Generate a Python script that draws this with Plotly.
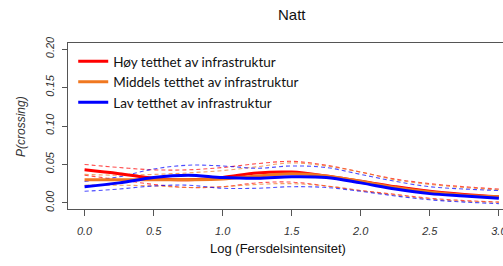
import plotly.graph_objects as go

x_vals = [0.0, 0.25, 0.5, 0.75, 1.0, 1.25, 1.5, 1.75, 2.0, 2.25, 2.5, 2.75, 3.0]

hoy_mean  = [0.043, 0.038, 0.032, 0.030, 0.033, 0.039, 0.040, 0.035, 0.028, 0.021, 0.015, 0.011, 0.008]
hoy_upper = [0.050, 0.046, 0.043, 0.043, 0.046, 0.051, 0.054, 0.049, 0.040, 0.031, 0.025, 0.021, 0.018]
hoy_lower = [0.036, 0.030, 0.024, 0.020, 0.021, 0.026, 0.027, 0.022, 0.016, 0.011, 0.006, 0.003, 0.001]

mid_mean  = [0.030, 0.030, 0.030, 0.030, 0.031, 0.035, 0.038, 0.035, 0.028, 0.020, 0.014, 0.010, 0.008]
mid_upper = [0.037, 0.036, 0.037, 0.039, 0.042, 0.047, 0.052, 0.048, 0.040, 0.030, 0.024, 0.020, 0.017]
mid_lower = [0.023, 0.023, 0.022, 0.020, 0.021, 0.024, 0.025, 0.022, 0.016, 0.010, 0.005, 0.002, 0.001]

lav_mean  = [0.021, 0.026, 0.033, 0.036, 0.033, 0.032, 0.034, 0.033, 0.026, 0.018, 0.012, 0.009, 0.006]
lav_upper = [0.028, 0.034, 0.044, 0.049, 0.048, 0.045, 0.048, 0.046, 0.037, 0.028, 0.021, 0.018, 0.016]
lav_lower = [0.015, 0.018, 0.022, 0.023, 0.019, 0.019, 0.021, 0.020, 0.015, 0.009, 0.004, 0.001, -0.001]

series_names = ["Høy tetthet av infrastruktur",
                "Middels tetthet av infrastruktur",
                "Lav tetthet av infrastruktur"]

x_ticks = [0.0, 0.5, 1.0, 1.5, 2.0, 2.5, 3.0]
x_tick_labels = ["0.0", "0.5", "1.0", "1.5", "2.0", "2.5", "3.0"]
y_ticks = [0.00, 0.05, 0.10, 0.15, 0.20]
y_tick_labels = ["0.00", "0.05", "0.10", "0.15", "0.20"]

colors = ["#FF0000", "#F07820", "#0000FF"]
series = [(hoy_mean, hoy_upper, hoy_lower),
          (mid_mean, mid_upper, mid_lower),
          (lav_mean, lav_upper, lav_lower)]

fig = go.Figure()
# dashed confidence bands first
for (m, u, l), c in zip(series, colors):
    for band in (u, l):
        fig.add_trace(go.Scatter(x=x_vals, y=band, mode="lines", showlegend=False,
                                 line=dict(color=c, width=1.1, dash="4px,3px", shape="spline"),
                                 opacity=0.7, hoverinfo="skip"))
for (m, u, l), c, name in zip(series, colors, series_names):
    fig.add_trace(go.Scatter(x=x_vals, y=m, mode="lines", name=name,
                             line=dict(color=c, width=3, shape="spline")))

axis_col = "#555555"
fig.update_layout(
    width=503, height=266,
    margin=dict(l=68, r=0, t=43, b=57, autoexpand=False),
    paper_bgcolor="white", plot_bgcolor="white",
    showlegend=True,
    legend=dict(x=0.012, y=0.982, xanchor="left", yanchor="top",
                bgcolor="rgba(0,0,0,0)", itemwidth=30, tracegroupgap=0,
                font=dict(family="Lato", size=13.5, color="#111111")),
    xaxis=dict(range=[-0.12, 3.03], tickmode="array", tickvals=x_ticks, ticktext=x_tick_labels,
               automargin=False, ticklabeloverflow="allow", ticklabelstandoff=6,
               showgrid=False, zeroline=False, showline=True, linecolor=axis_col, linewidth=1,
               mirror=True, ticks="outside", ticklen=6, tickcolor=axis_col,
               tickfont=dict(family="Arial", size=11, color="#333333", style="italic")),
    yaxis=dict(range=[-0.008, 0.208], tickmode="array", tickvals=y_ticks, ticktext=y_tick_labels,
               automargin=False, ticklabelstandoff=4,
               showgrid=False, zeroline=False, showline=True, linecolor=axis_col, linewidth=1,
               mirror=False, ticks="outside", ticklen=5, tickcolor=axis_col, tickangle=-90,
               tickfont=dict(family="Arial", size=11, color="#333333", style="italic")),
    annotations=[
        dict(text="Natt", x=(292 - 68) / 435, y=(209 - 15) / 166, xref="paper", yref="paper",
             xanchor="center", yanchor="middle",
             showarrow=False, font=dict(family="Arial", size=15, color="#111111")),
        dict(text="Log (Fersdelsintensitet)", x=(278 - 68) / 435, y=(209 - 248) / 166,
             xref="paper", yref="paper", xanchor="center", yanchor="middle", showarrow=False,
             font=dict(family="Arial", size=13, color="#111111")),
        dict(text="P(crossing)", x=(21 - 68) / 435, y=(209 - 127) / 166, xref="paper", yref="paper",
             xanchor="center", yanchor="middle", showarrow=False, textangle=-90,
             font=dict(family="Arial", size=12, color="#333333", style="italic")),
    ],
)

fig.write_html("out.html", config={"displayModeBar": False},
               post_script="document.body.style.margin='0';document.body.style.overflow='hidden';")
